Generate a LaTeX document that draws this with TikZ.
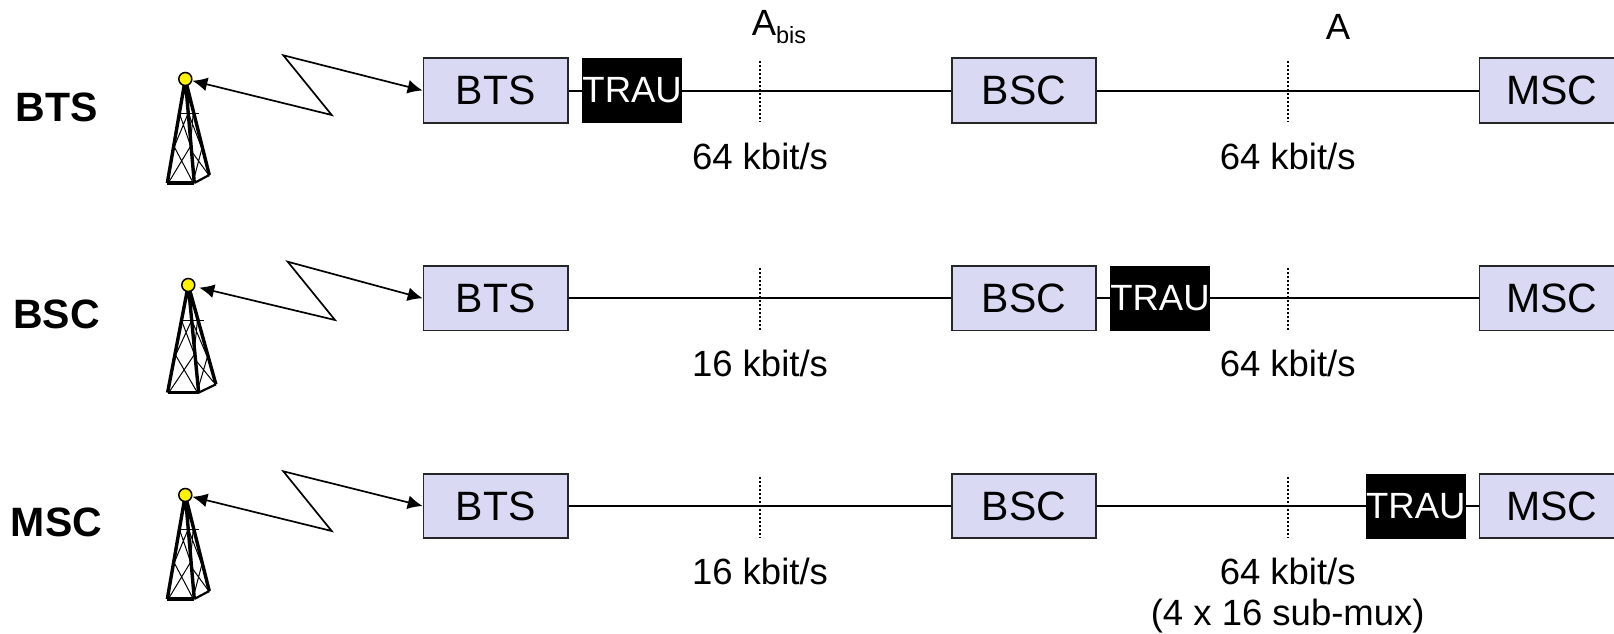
\documentclass[tikz,border=0pt]{standalone}
\usepackage{fontspec}
\setmainfont{Liberation Sans}
\usepackage{tikz}
\usetikzlibrary{arrows.meta,positioning}
\definecolor{unitblue}{RGB}{217,217,243}

\begin{document}
\begin{tikzpicture}[
    x=1pt,
    y=-1pt,
    node distance=207.75pt,
    unit/.style={
		rectangle,
		draw=black!85,
		line width=1.7pt,
		fill=unitblue,
		text centered,
		inner sep=0pt,
		minimum width=144.5pt,
		minimum height=64.5pt,
		font=\fontsize{41}{41}\selectfont
	},
	trau/.style={
		rectangle,
		fill=black,
		text=white,
		inner sep=0pt,
		minimum width=97.7pt,
		minimum height=65pt,
		font=\fontsize{36.5}{36.5}\selectfont
	},
	rate/.style={
		inner sep=0pt,
		font=\fontsize{36.5}{36.5}\selectfont
	},
	rowname/.style={
		inner sep=0pt,
		font=\fontsize{41}{41}\selectfont\bfseries
	},
	link/.style={line width=2pt},
	cut/.style={line width=1.7pt, dash pattern=on 2pt off 2pt},
	radio/.style={line width=1.7pt, line join=miter, <->, >={Latex[length=15pt,width=14pt]}},
	mast/.pic={
		% legs, then lattice, then the lamp on top
		\draw [line width=3.4pt, line join=round] (-18,104) -- (0,0) -- (9,104) (0,0) -- (24,96);
		\draw [line width=3.4pt] (-18,104) -- (9,104);
		\draw [line width=2.2pt] (9,104) -- (24,96);
		\draw [line width=1pt] (-6,34) -- (14,34);
		\draw [line width=1pt] (-6,34) -- (5,66) (3,34) -- (-12,70);
		\draw [line width=1pt] (-12,66) -- (8,104) (6,66) -- (-17,104);
		\draw [line width=1pt] (3,34) -- (16,68) (8,34) -- (5,66);
		\draw [line width=1pt] (17,68) -- (8,102) (6,72) -- (22,94);
		\node [circle, draw=black, line width=1.5pt, fill=yellow, inner sep=0pt, minimum size=13pt] (-top) at (0,0) {};
	}
  ]
  \useasboundingbox (0,0) rectangle (1614,634);

  % first row
  \node [rowname] (name1) at (56.5,107) {BTS};
  \node [unit] (bts1) at (495.75,90.5) {BTS};
  \node [unit, right of=bts1, node distance=528.25pt] (bsc1) {BSC};
  \node [unit, right of=bsc1, node distance=527.75pt] (msc1) {MSC};
  \node [trau, right of=bts1, node distance=136.4pt] (trau1) {TRAU};

  % second row
  \node [rowname, below of=name1] (name2) {BSC};
  \node [unit, below of=bts1] (bts2) {BTS};
  \node [unit, below of=bsc1] (bsc2) {BSC};
  \node [unit, below of=msc1] (msc2) {MSC};
  \node [trau, right of=bsc2, node distance=136pt] (trau2) {TRAU};

  % third row
  \node [rowname, below of=name2] (name3) {MSC};
  \node [unit, below of=bts2] (bts3) {BTS};
  \node [unit, below of=bsc2] (bsc3) {BSC};
  \node [unit, below of=msc2] (msc3) {MSC};
  \node [trau, left of=msc3, node distance=135.9pt] (trau3) {TRAU};

  % interface labels
  \node [rate] (abis) at (779,27) {A\raisebox{-8pt}{\fontsize{23.5}{23.5}\selectfont bis}};
  \node [rate] (aif) at (1338,27) {A};

  \node [rate] (rate1) at (760,156) {64 kbit/s};
  \node [rate, right of=rate1, node distance=527.7pt] (rate2) {64 kbit/s};
  \node [rate, below of=rate1] (rate3) {16 kbit/s};
  \node [rate, below of=rate2] (rate4) {64 kbit/s};
  \node [rate, below of=rate3] (rate5) {16 kbit/s};
  \node [rate, below of=rate4] (rate6) {64 kbit/s};
  \node [rate, below of=rate6, node distance=45pt] (submux) {(4 x 16 sub-mux)};

  % ends of the dotted cuts
  \coordinate (cut1a) at (760,61);
  \coordinate (cut1b) at (760,122);
  \coordinate (cut2a) at (1287.7,61);
  \coordinate (cut2b) at (1287.7,122);
  \coordinate (cut3a) at (760,268);
  \coordinate (cut3b) at (760,330);
  \coordinate (cut4a) at (1287.7,268);
  \coordinate (cut4b) at (1287.7,330);
  \coordinate (cut5a) at (760,477);
  \coordinate (cut5b) at (760,538);
  \coordinate (cut6a) at (1287.7,477);
  \coordinate (cut6b) at (1287.7,538);

  \draw [link] (bts1) -- (trau1);
  \draw [link] (trau1) -- (bsc1);
  \draw [link] (bsc1) -- (msc1);
  \draw [link] (bts2) -- (bsc2);
  \draw [link] (bsc2) -- (trau2);
  \draw [link] (trau2) -- (msc2);
  \draw [link] (bts3) -- (bsc3);
  \draw [link] (bsc3) -- (trau3);
  \draw [link] (trau3) -- (msc3);

  \draw [cut] (cut1a) -- (cut1b);
  \draw [cut] (cut2a) -- (cut2b);
  \draw [cut] (cut3a) -- (cut3b);
  \draw [cut] (cut4a) -- (cut4b);
  \draw [cut] (cut5a) -- (cut5b);
  \draw [cut] (cut6a) -- (cut6b);

  % masts and radio links
  \pic (mast1) at (185.3,79) {mast};
  \pic [xscale=1.15, yscale=1.035] (mast2) at (188.3,285) {mast};
  \pic (mast3) at (185.3,495) {mast};

  \coordinate (bolt1a) at (331.7,115);
  \coordinate (bolt1b) at (283.3,55.3);
  \coordinate (bolt2a) at (335,320);
  \coordinate (bolt2b) at (287.7,261.7);
  \coordinate (bolt3a) at (331.7,531);
  \coordinate (bolt3b) at (283.3,471.3);

  \draw [radio] (mast1-top) -- (bolt1a) -- (bolt1b) -- (bts1.west);
  \draw [radio, shorten <=4pt] (mast2-top) -- (bolt2a) -- (bolt2b) -- (bts2.west);
  \draw [radio] (mast3-top) -- (bolt3a) -- (bolt3b) -- (bts3.west);

\end{tikzpicture}
\end{document}
